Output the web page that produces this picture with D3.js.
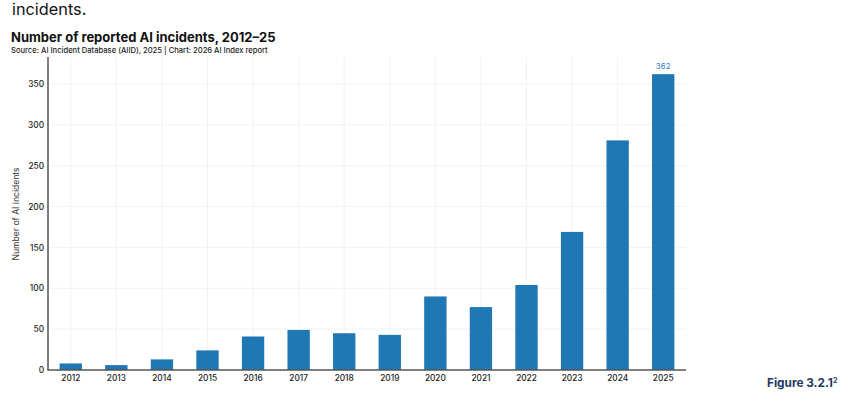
<!DOCTYPE html>
<html><head><meta charset="utf-8">
<script src="https://cdn.jsdelivr.net/npm/d3@7"></script>
<style>
html,body{margin:0;padding:0;background:#fff;}
svg{display:block;font-family:"Inter","Noto Sans",sans-serif;}
</style></head>
<body><svg id="c" width="850" height="403"></svg>
<script>
const years = ["2012","2013","2014","2015","2016","2017","2018","2019","2020","2021","2022","2023","2024","2025"];
const incidents = [8,6,13,24,41,49,45,43,90,77,104,169,281,362];
const yTicks = [0,50,100,150,200,250,300,350];
const labelledYear = "2025";

const svg = d3.select("#c");
const mLeft = 48, mRight = 686, mTop = 57, mBottom = 370;

const x = d3.scaleBand().domain(years).range([mLeft, mRight]).paddingInner(0.51).paddingOuter(0.255);
const y = d3.scaleLinear().domain([0, 350]).range([mBottom, 84]);

// Lead-in text and titles
svg.append("text").attr("x", 12).attr("y", 15).attr("font-size", 16.3).attr("fill", "#111").text("incidents.");
svg.append("text").attr("x", 11).attr("y", 42).attr("font-size", 13).attr("font-weight", 700).attr("fill", "#111").text("Number of reported AI incidents, 2012–25");
svg.append("text").attr("x", 11).attr("y", 53).attr("font-size", 7.6).attr("font-weight", 500).attr("fill", "#222").text("Source: AI Incident Database (AIID), 2025 | Chart: 2026 AI Index report");

// gridlines
const g = svg.append("g");
g.selectAll("line.h").data(yTicks.filter(d => d > 0)).join("line")
  .attr("x1", mLeft).attr("x2", mRight).attr("y1", d => y(d)).attr("y2", d => y(d))
  .attr("stroke", "#f2f2f2").attr("stroke-width", 1);
g.selectAll("line.v").data(years).join("line")
  .attr("x1", d => x(d) + x.bandwidth()/2).attr("x2", d => x(d) + x.bandwidth()/2)
  .attr("y1", mTop).attr("y2", mBottom)
  .attr("stroke", "#f2f2f2").attr("stroke-width", 1);

// bars
svg.append("g").selectAll("rect").data(years).join("rect")
  .attr("x", d => x(d)).attr("width", x.bandwidth())
  .attr("y", (d,i) => y(incidents[i])).attr("height", (d,i) => mBottom - y(incidents[i]))
  .attr("fill", "#1f77b4");

// value label
const li = years.indexOf(labelledYear);
svg.append("text").attr("x", x(labelledYear) + x.bandwidth()/2).attr("y", y(incidents[li]) - 5)
  .attr("text-anchor", "middle").attr("font-size", 8).attr("fill", "#2f7fc6").text(incidents[li]);

// axes
const yAxis = svg.append("g").attr("transform", `translate(${mLeft},0)`)
  .call(d3.axisLeft(y).tickValues(yTicks).tickSize(0).tickPadding(4));
yAxis.select(".domain").remove();
yAxis.selectAll("text").attr("font-size", 8.3).attr("font-weight", 500).attr("fill", "#222").attr("font-family", "Inter, 'Noto Sans', sans-serif");

const xAxis = svg.append("g").attr("transform", `translate(0,${mBottom})`)
  .call(d3.axisBottom(x).tickSize(0).tickPadding(5));
xAxis.select(".domain").remove();
xAxis.selectAll("text").attr("font-size", 8.3).attr("font-weight", 500).attr("fill", "#222").attr("font-family", "Inter, 'Noto Sans', sans-serif");

svg.append("line").attr("x1", mLeft).attr("x2", mLeft).attr("y1", mTop).attr("y2", mBottom + 0.75)
  .attr("stroke", "#555").attr("stroke-width", 1.5);
svg.append("line").attr("x1", mLeft).attr("x2", mRight).attr("y1", mBottom).attr("y2", mBottom)
  .attr("stroke", "#555").attr("stroke-width", 1.5);

// y label
svg.append("text").attr("transform", `translate(19,214) rotate(-90)`)
  .attr("text-anchor", "middle").attr("font-size", 8.6).attr("fill", "#333").text("Number of AI incidents");

// figure label
const fig = svg.append("text").attr("x", 767).attr("y", 387).attr("font-size", 11.8).attr("font-weight", 700).attr("fill", "#1e3a64");
fig.append("tspan").text("Figure 3.2.1");
fig.append("tspan").attr("font-size", 7).attr("dy", -4).text("2");
</script></body></html>
